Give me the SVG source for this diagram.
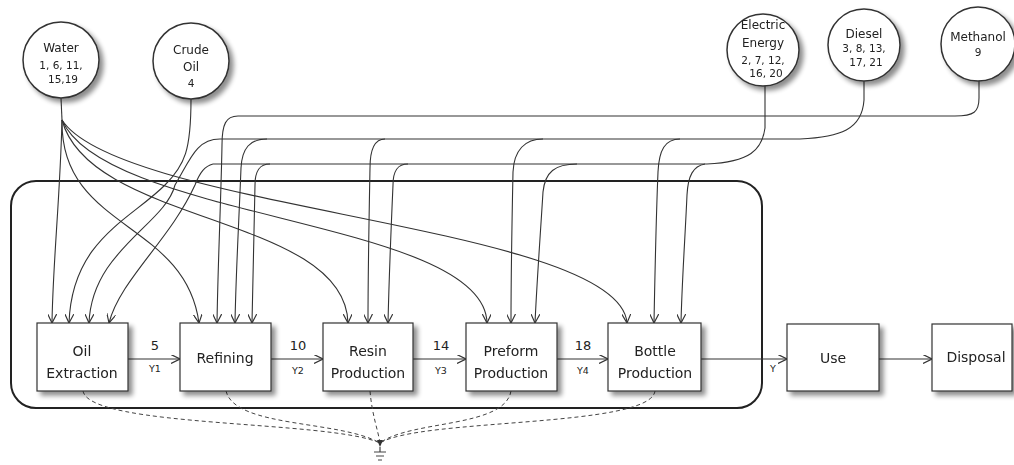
<svg xmlns="http://www.w3.org/2000/svg" width="1014" height="465" viewBox="0 0 1014 465">
<style>
.box{fill:#fff;stroke:#333;stroke-width:1.2}
.circ{fill:#fff;stroke:#333;stroke-width:1.5}
.t{font-family:"DejaVu Sans",Verdana,sans-serif;font-size:14px;fill:#222;text-anchor:middle}
.ct{font-family:"DejaVu Sans",Verdana,sans-serif;font-size:12px;fill:#222;text-anchor:middle}
.cn{font-family:"DejaVu Sans",Verdana,sans-serif;font-size:10.5px;fill:#222;text-anchor:middle}
.lb{font-family:"DejaVu Sans",Verdana,sans-serif;font-size:13px;fill:#222;text-anchor:middle}
.ls{font-family:"DejaVu Sans",Verdana,sans-serif;font-size:9.5px;fill:#222;text-anchor:middle}
.c{fill:none;stroke:#333;stroke-width:1.1}
.a{fill:none;stroke:#333;stroke-width:1.1;marker-end:url(#arr)}
.d{fill:none;stroke:#444;stroke-width:1;stroke-dasharray:4 3}
</style>
<defs>
<marker id="arr" viewBox="0 0 10 10" refX="10" refY="5" markerWidth="9" markerHeight="9" markerUnits="userSpaceOnUse" orient="auto">
<path d="M0,0 L10,5 L0,10" fill="none" stroke="#333" stroke-width="1.3"/>
</marker>
<filter id="sh" x="-20%" y="-20%" width="150%" height="150%">
<feGaussianBlur in="SourceAlpha" stdDeviation="2.5"/>
<feOffset dx="4" dy="4" result="b"/>
<feComponentTransfer><feFuncA type="linear" slope="0.45"/></feComponentTransfer>
<feMerge><feMergeNode/><feMergeNode in="SourceGraphic"/></feMerge>
</filter>
</defs>
<rect width="1014" height="465" fill="#fff"/>

<g id="system">
<rect x="11" y="181" width="751" height="227" rx="25" fill="none" stroke="#222" stroke-width="2"/>
</g>

<g id="connectors">
<!-- water -->
<path class="c" d="M61,98 L62,120"/>
<path class="a" d="M62,120 C60,200 53,260 52,323"/>
<path class="a" d="M62,120 C60,230 185,220 199,323"/>
<path class="a" d="M62,120 C90,225 345,215 348,323"/>
<path class="a" d="M62,120 C105,220 485,220 487,323"/>
<path class="a" d="M62,120 C120,210 620,225 627,323"/>
<!-- crude oil -->
<path class="a" d="M191,99 C191,150 185,165 165,185 C130,220 72,240 69,323"/>
<!-- methanol -->
<path class="c" d="M979,80 L979,98 C979,112 974,116 955,116 L238,116"/>
<path class="a" d="M238,116 C226,116 222,124 222,145 C221,200 218,260 217,323"/>
<!-- diesel -->
<path class="c" d="M864,80 L864,100 C862,130 840,137 800,139 L220,139"/>
<path class="a" d="M220,139 C196,139 190,160 175,185 C165,225 92,250 89,323"/>
<path class="a" d="M267,139 C250,139 242,148 241,168 C239,220 236,270 235,323"/>
<path class="a" d="M385,139 C375,139 370,148 370,168 C369,220 368,270 368,323"/>
<path class="a" d="M543,139 C525,139 514,150 513,172 C512,220 511,270 511,323"/>
<path class="a" d="M680,139 C665,139 659,150 658,172 C656,220 655,270 654,323"/>
<!-- electric energy -->
<path class="c" d="M765,85 L765,128 C762,150 750,162 707,164 L213,164"/>
<path class="a" d="M213,164 C205,166 200,172 195,185 C170,240 120,280 109,323"/>
<path class="a" d="M270,164 C260,164 255,170 255,185 C254,230 253,280 252,323"/>
<path class="a" d="M408,164 C398,164 393,170 393,185 C391,230 389,280 388,323"/>
<path class="a" d="M577,164 C555,164 545,172 543,192 C540,240 537,280 535,323"/>
<path class="a" d="M705,164 C693,166 688,176 687,195 C685,240 682,280 681,323"/>
<!-- process flow -->
<path class="a" d="M128,359 L180,359"/>
<path class="a" d="M271,359 L323,359"/>
<path class="a" d="M413,359 L466,359"/>
<path class="a" d="M557,359 L608,359"/>
<path class="a" d="M701,359 L787,359"/>
<path class="a" d="M879,359 L932,359"/>
<!-- emissions -->
<path class="d" d="M83,391 C90,428 330,420 380,443"/>
<path class="d" d="M226,391 C235,428 340,420 380,443"/>
<path class="d" d="M370,391 C372,415 378,430 380,443"/>
<path class="d" d="M511,391 C505,428 410,420 380,443"/>
<path class="d" d="M655,391 C650,428 420,418 380,443"/>
<path d="M377,440 L383,440 L380,447 Z" fill="#333"/>
<path d="M380,447 L380,452 M374,452 L386,452 M376,456 L384,456 M378,460 L382,460" stroke="#444" stroke-width="1.2" fill="none"/>
</g>

<g id="water" filter="url(#sh)">
<circle class="circ" cx="61" cy="60" r="38"/>
<text class="ct" x="61" y="52">Water</text>
<text class="cn" x="61" y="69">1, 6, 11,</text>
<text class="cn" x="63" y="83">15,19</text>
</g>
<g id="crude-oil" filter="url(#sh)">
<circle class="circ" cx="191" cy="61" r="38"/>
<text class="ct" x="191" y="54">Crude</text>
<text class="ct" x="191" y="71">Oil</text>
<text class="cn" x="191" y="87">4</text>
</g>
<g id="electric-energy" filter="url(#sh)">
<circle class="circ" cx="763" cy="50" r="36"/>
<text class="ct" x="763" y="29">Electric</text>
<text class="ct" x="763" y="47">Energy</text>
<text class="cn" x="763" y="64">2, 7, 12,</text>
<text class="cn" x="766" y="77">16, 20</text>
</g>
<g id="diesel" filter="url(#sh)">
<circle class="circ" cx="864" cy="45" r="36"/>
<text class="ct" x="864" y="38">Diesel</text>
<text class="cn" x="864" y="52">3, 8, 13,</text>
<text class="cn" x="866" y="66">17, 21</text>
</g>
<g id="methanol" filter="url(#sh)">
<circle class="circ" cx="978" cy="44" r="37"/>
<text class="ct" x="978" y="41">Methanol</text>
<text class="cn" x="978" y="56">9</text>
</g>

<g id="oil-extraction" filter="url(#sh)">
<rect class="box" x="37" y="323" width="91" height="68"/>
<text class="t" x="82" y="356">Oil</text>
<text class="t" x="82" y="378">Extraction</text>
</g>
<g id="refining" filter="url(#sh)">
<rect class="box" x="180" y="323" width="91" height="68"/>
<text class="t" x="225" y="363">Refining</text>
</g>
<g id="resin-production" filter="url(#sh)">
<rect class="box" x="323" y="323" width="90" height="68"/>
<text class="t" x="368" y="356">Resin</text>
<text class="t" x="368" y="378">Production</text>
</g>
<g id="preform-production" filter="url(#sh)">
<rect class="box" x="466" y="323" width="91" height="68"/>
<text class="t" x="511" y="356">Preform</text>
<text class="t" x="511" y="378">Production</text>
</g>
<g id="bottle-production" filter="url(#sh)">
<rect class="box" x="608" y="323" width="93" height="68"/>
<text class="t" x="655" y="356">Bottle</text>
<text class="t" x="655" y="378">Production</text>
</g>
<g id="use" filter="url(#sh)">
<rect class="box" x="787" y="324" width="92" height="67"/>
<text class="t" x="833" y="363">Use</text>
</g>
<g id="disposal" filter="url(#sh)">
<rect class="box" x="932" y="324" width="80" height="67"/>
<text class="t" x="976" y="362">Disposal</text>
</g>

<g id="labels">
<text class="lb" x="155" y="350">5</text>
<text class="ls" x="155" y="372">Y1</text>
<text class="lb" x="298" y="350">10</text>
<text class="ls" x="298" y="374">Y2</text>
<text class="lb" x="441" y="350">14</text>
<text class="ls" x="441" y="374">Y3</text>
<text class="lb" x="583" y="350">18</text>
<text class="ls" x="583" y="374">Y4</text>
<text class="ls" x="773" y="372">Y</text>
</g>
</svg>
